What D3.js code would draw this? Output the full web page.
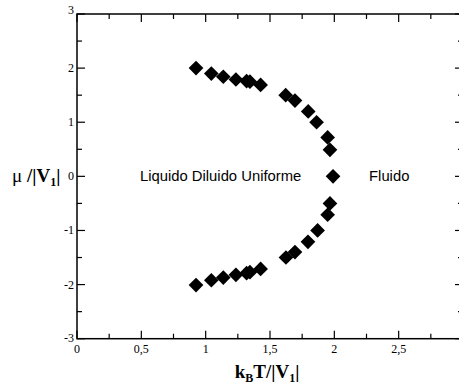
<!DOCTYPE html>
<html><head><meta charset="utf-8">
<script src="https://cdn.jsdelivr.net/npm/d3@7"></script>
<style>body{margin:0;background:#fff}svg{display:block}</style>
</head><body>
<svg id="c" width="459" height="387"></svg>
<script>
const upperX = [0.925,1.044,1.137,1.235,1.318,1.344,1.427,1.622,1.694,1.797,1.862,1.948,1.966,1.99];
const upperY = [2.00,1.90,1.84,1.79,1.76,1.75,1.69,1.50,1.40,1.20,1.00,0.72,0.49,0.00];
const lowerX = [1.966,1.948,1.870,1.795,1.694,1.624,1.427,1.344,1.318,1.235,1.137,1.044,0.925];
const lowerY = [-0.50,-0.71,-1.00,-1.21,-1.40,-1.50,-1.71,-1.77,-1.79,-1.82,-1.87,-1.92,-2.01];
const xTicks = [0,0.5,1,1.5,2,2.5];
const xTickLabels = ["0","0,5","1","1,5","2","2,5"];
const yTicks = [-3,-2,-1,0,1,2,3];
const xMinor = [0.25,0.75,1.25,1.75,2.25,2.75];
const yMinor = [-2.5,-1.5,-0.5,0.5,1.5,2.5];
const regionLabels = [{t:"Liquido Diluido Uniforme",x:0.49,y:0},{t:"Fluido",x:2.27,y:0}];

const svg = d3.select("#c");
const x = d3.scaleLinear().domain([0,3]).range([77,463]);
const y = d3.scaleLinear().domain([-3,3]).range([338.7,14]);
const g = svg.append("g");
const serif = "Liberation Serif";

g.append("rect").attr("x",x(0)).attr("y",y(3)).attr("width",x(3)-x(0)).attr("height",y(-3)-y(3))
 .attr("fill","none").attr("stroke","#000").attr("stroke-width",1.5);

const tick = (x1,y1,x2,y2)=>g.append("line").attr("x1",x1).attr("y1",y1).attr("x2",x2).attr("y2",y2).attr("stroke","#000").attr("stroke-width",1.2);
xTicks.concat([3]).forEach(v=>{tick(x(v),y(-3),x(v),y(-3)-8);tick(x(v),y(3),x(v),y(3)+8);});
xMinor.forEach(v=>{tick(x(v),y(-3),x(v),y(-3)-5);tick(x(v),y(3),x(v),y(3)+5);});
yTicks.forEach(v=>{tick(x(0),y(v),x(0)+8,y(v));tick(x(3),y(v),x(3)-8,y(v));});
yMinor.forEach(v=>{tick(x(0),y(v),x(0)+5,y(v));tick(x(3),y(v),x(3)-5,y(v));});

xTicks.forEach((v,i)=>g.append("text").attr("x",x(v)).attr("y",y(-3)+14).attr("text-anchor","middle")
 .attr("font-family",serif).attr("font-size",12).text(xTickLabels[i]));
yTicks.forEach(v=>g.append("text").attr("x",x(0)-3).attr("y",y(v)+(v===3?0:v===-3?3:4)).attr("text-anchor","end")
 .attr("font-family",serif).attr("font-size",12).text(v));

const xt = g.append("text").attr("x",267).attr("y",378).attr("text-anchor","middle")
 .attr("font-family",serif).attr("font-size",19).attr("font-weight","bold");
xt.append("tspan").text("k");
xt.append("tspan").attr("font-size",12).attr("dy",4).text("B");
xt.append("tspan").attr("dy",-4).text("T/|V");
xt.append("tspan").attr("font-size",12).attr("dy",4).text("1");
xt.append("tspan").attr("dy",-4).text("|");

const yt = g.append("text").attr("x",12).attr("y",182).attr("font-family",serif).attr("font-size",19);
yt.append("tspan").text("μ");
yt.append("tspan").attr("font-weight","bold").text(" /|V");
yt.append("tspan").attr("font-weight","bold").attr("font-size",12).attr("dy",4).text("1");
yt.append("tspan").attr("font-weight","bold").attr("dy",-4).text("|");

regionLabels.forEach(d=>g.append("text").attr("x",x(d.x)).attr("y",y(d.y)+5).attr("font-family","Liberation Sans")
 .attr("font-size",14.8).text(d.t));

const pts = upperX.map((v,i)=>[v,upperY[i]]).concat(lowerX.map((v,i)=>[v,lowerY[i]]));
g.selectAll("path.pt").data(pts).join("path").attr("class","pt")
 .attr("transform",d=>`translate(${x(d[0])},${y(d[1])}) rotate(45)`)
 .attr("d",d3.symbol().type(d3.symbolSquare).size(108)).attr("fill","#000");
</script>
</body></html>
